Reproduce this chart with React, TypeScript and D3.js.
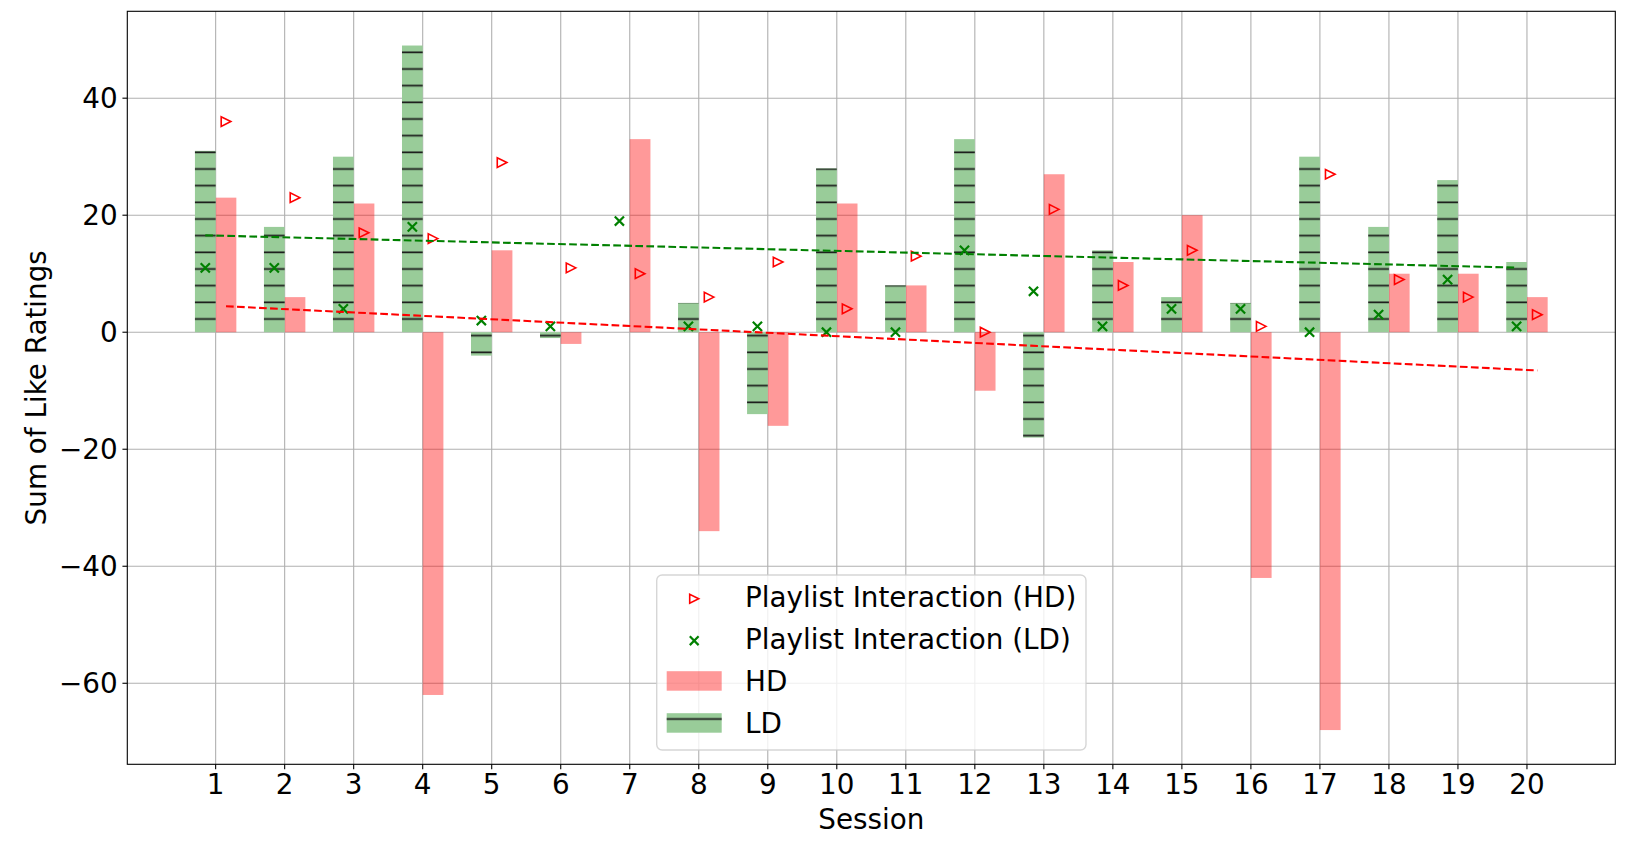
import React from "react";
import * as d3 from "d3";

const sessions = [1, 2, 3, 4, 5, 6, 7, 8, 9, 10, 11, 12, 13, 14, 15, 16, 17, 18, 19, 20];
const hdValues = [23, 6, 22, -62, 14, -2, 33, -34, -16, 22, 8, -10, 27, 12, 20, -42, -68, 10, 10, 6];
const ldValues = [31, 18, 30, 49, -4, -1, 0, 5, -14, 28, 8, 33, -18, 14, 6, 5, 30, 18, 26, 12];
const hdInteraction = [36, 23, 17, 16, 29, 11, 10, 6, 12, 4, 13, 0, 21, 8, 14, 1, 27, 9, 6, 3];
const ldInteraction = [11, 11, 4, 18, 2, 1, 19, 1, 1, 0, 0, 14, 7, 1, 4, 4, 0, 3, 9, 1];
const yTicks = [-60, -40, -20, 0, 20, 40];
const legendLabels = ["Playlist Interaction (HD)", "Playlist Interaction (LD)", "HD", "LD"];

const W = 1630;
const H = 851;
const L = 127.3, R = 1615.3, T = 11.3, B = 764.3;
const BAR_W = 0.3;
const FONT = "'DejaVu Sans', sans-serif";
const FS = 27.8;
const RED = "#ff0000";
const GREEN = "#008000";

function fit(xs: number[], ys: number[]) {
  const mx = d3.mean(xs) as number;
  const my = d3.mean(ys) as number;
  let num = 0, den = 0;
  xs.forEach((x, i) => { num += (x - mx) * (ys[i] - my); den += (x - mx) * (x - mx); });
  const slope = num / den;
  return { slope, intercept: my - slope * mx };
}

export default function App() {
  const xMin = sessions[0] - BAR_W, xMax = sessions[sessions.length - 1] + BAR_W;
  const xPad = (xMax - xMin) * 0.05;
  const x = d3.scaleLinear().domain([xMin - xPad, xMax + xPad]).range([L, R]);
  const allY = [...hdValues, ...ldValues, ...hdInteraction, ...ldInteraction, 0];
  const yLo = d3.min(allY) as number, yHi = d3.max(allY) as number;
  const yPad = (yHi - yLo) * 0.05;
  const y = d3.scaleLinear().domain([yLo - yPad, yHi + yPad]).range([B, T]);
  const fmt = d3.format("d");

  const ldPos = sessions.map((s) => s - BAR_W / 2);
  const hdPos = sessions.map((s) => s + BAR_W / 2);
  const ldFit = fit(ldPos, ldValues);
  const hdFit = fit(hdPos, hdValues);
  const lineGen = d3.line<number>().x((d) => x(d[0])).y((d) => y(d[1]));
  const ldLine = lineGen([
    [ldPos[0], ldFit.intercept + ldFit.slope * ldPos[0]],
    [ldPos[ldPos.length - 1], ldFit.intercept + ldFit.slope * ldPos[ldPos.length - 1]],
  ] as any);
  const hdLine = lineGen([
    [hdPos[0], hdFit.intercept + hdFit.slope * hdPos[0]],
    [hdPos[hdPos.length - 1], hdFit.intercept + hdFit.slope * hdPos[hdPos.length - 1]],
  ] as any);

  const hatchStep = 16.667;
  const hatchOffset = 2.3;

  const tri = (cx: number, cy: number, r: number) =>
    `M${cx + r},${cy} L${cx - r},${cy - r} L${cx - r},${cy + r} Z`;
  const cross = (cx: number, cy: number, r: number) =>
    `M${cx - r},${cy - r} L${cx + r},${cy + r} M${cx - r},${cy + r} L${cx + r},${cy - r}`;

  // legend geometry
  const lgX = 656.7, lgY = 575, lgW = 429.3, lgH = 175;
  const lgTextX = 745;
  const lgBase = [606.7, 648.7, 690.7, 732.7];
  const hX0 = 666.7, hW = 55, hH = 19.5;

  return (
    <svg width={W} height={H} style={{ position: "absolute", left: 0, top: 0, background: "#fff" }}
      fontFamily={FONT}>
      <defs>
        <pattern id="hatch" patternUnits="userSpaceOnUse" x={0} y={0} width={40} height={hatchStep}>
          <line x1={0} x2={40} y1={hatchOffset} y2={hatchOffset} stroke="#1a1a1a" strokeWidth={1.7} />
        </pattern>
      </defs>
      <rect x={0} y={0} width={W} height={H} fill="#fff" />
      {/* grid */}
      <g stroke="#b0b0b0" strokeWidth={1.1}>
        {sessions.map((s) => (
          <line key={"gx" + s} x1={x(s)} x2={x(s)} y1={T} y2={B} />
        ))}
        {yTicks.map((t) => (
          <line key={"gy" + t} x1={L} x2={R} y1={y(t)} y2={y(t)} />
        ))}
      </g>
      {/* HD bars */}
      <g>
        {sessions.map((s, i) => (
          <rect key={"hd" + s} x={x(s)} width={x(s + BAR_W) - x(s)}
            y={y(Math.max(0, hdValues[i]))} height={Math.abs(y(hdValues[i]) - y(0))}
            fill={RED} fillOpacity={0.4} />
        ))}
      </g>
      {/* LD bars */}
      <g>
        {sessions.map((s, i) => {
          const bx = x(s - BAR_W), bw = x(s) - x(s - BAR_W);
          const by = y(Math.max(0, ldValues[i])), bh = Math.abs(y(ldValues[i]) - y(0));
          return (
            <g key={"ld" + s}>
              <rect x={bx} width={bw} y={by} height={bh} fill="#99cc99" />
              <rect x={bx} width={bw} y={by} height={bh} fill="url(#hatch)" />
            </g>
          );
        })}
      </g>
      {/* scatter markers */}
      <g fill="none" stroke={RED} strokeWidth={1.6}>
        {sessions.map((s, i) => (
          <path key={"th" + s} d={tri(x(hdPos[i]), y(hdInteraction[i]), 4.8)} />
        ))}
      </g>
      <g fill="none" stroke={GREEN} strokeWidth={2.2}>
        {sessions.map((s, i) => (
          <path key={"xl" + s} d={cross(x(ldPos[i]), y(ldInteraction[i]), 4.6)} />
        ))}
      </g>
      {/* trend lines */}
      <path d={ldLine as string} fill="none" stroke={GREEN} strokeWidth={2.08} strokeDasharray="7.7,3.33" />
      <path d={hdLine as string} fill="none" stroke={RED} strokeWidth={2.08} strokeDasharray="7.7,3.33" />
      {/* spines */}
      <rect x={L} y={T} width={R - L} height={B - T} fill="none" stroke="#000" strokeWidth={1.1} />
      {/* x ticks */}
      <g fontSize={FS} fill="#000">
        {sessions.map((s) => (
          <g key={"xt" + s}>
            <line x1={x(s)} x2={x(s)} y1={B} y2={B + 4.86} stroke="#000" strokeWidth={1.1} />
            <text x={x(s)} y={794.3} textAnchor="middle">{fmt(s)}</text>
          </g>
        ))}
        {yTicks.map((t) => (
          <g key={"yt" + t}>
            <line x1={L - 4.86} x2={L} y1={y(t)} y2={y(t)} stroke="#000" strokeWidth={1.1} />
            <text x={L - 9.72} y={y(t) + 10.1} textAnchor="end">{fmt(t)}</text>
          </g>
        ))}
        <text x={(L + R) / 2} y={829.3} textAnchor="middle">Session</text>
        <text transform={`translate(45.5,${(T + B) / 2}) rotate(-90)`} textAnchor="middle">Sum of Like Ratings</text>
      </g>
      {/* legend */}
      <g>
        <rect x={lgX} y={lgY} width={lgW} height={lgH} rx={5.5} ry={5.5}
          fill="#fff" fillOpacity={0.8} stroke="#cccccc" strokeOpacity={0.8} strokeWidth={1.39} />
        <path d={tri(hX0 + hW / 2, lgBase[0] - 8, 4.5)} fill="none" stroke={RED} strokeWidth={1.6} />
        <path d={cross(hX0 + hW / 2, lgBase[1] - 8, 4.4)} fill="none" stroke={GREEN} strokeWidth={2.2} />
        <rect x={hX0} y={lgBase[2] - hH} width={hW} height={hH} fill={RED} fillOpacity={0.4} />
        <rect x={hX0} y={lgBase[3] - hH} width={hW} height={hH} fill="#99cc99" />
        <rect x={hX0} y={lgBase[3] - hH} width={hW} height={hH} fill="url(#hatch)" />
        {legendLabels.map((lab, i) => (
          <text key={lab} x={lgTextX} y={lgBase[i]} fontSize={FS} fill="#000">{lab}</text>
        ))}
      </g>
    </svg>
  );
}
